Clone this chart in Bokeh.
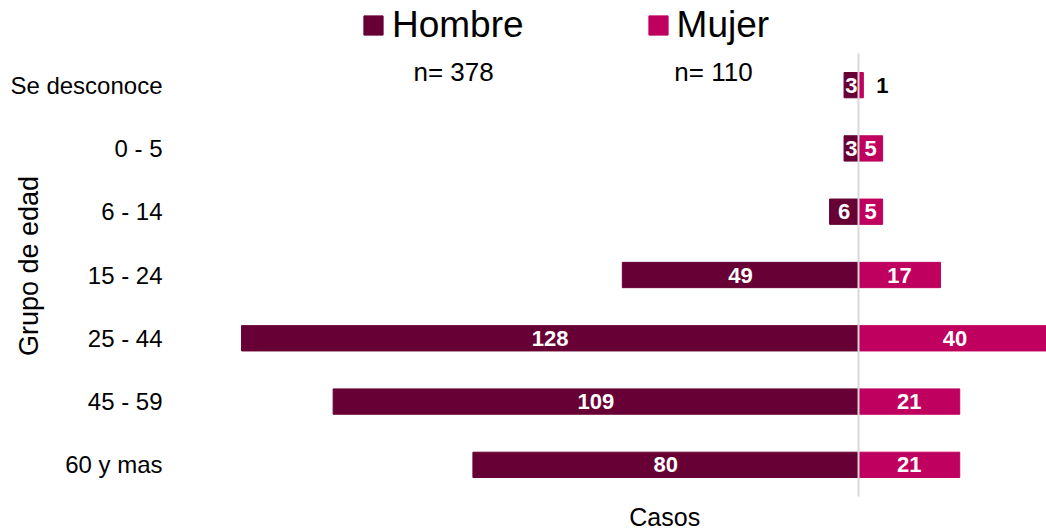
from bokeh.plotting import figure
from bokeh.models import ColumnDataSource, Range1d, Label, Legend, LegendItem, FixedTicker
from bokeh.core.properties import value
from bokeh.embed import file_html
from bokeh.resources import INLINE

# ---- data ----
grupos = ["Se desconoce", "0 - 5", "6 - 14", "15 - 24", "25 - 44", "45 - 59", "60 y mas"]
hombre = [3, 3, 6, 49, 128, 109, 80]
mujer = [1, 5, 5, 17, 40, 21, 21]
series = ["Hombre", "Mujer"]
n_totales = [378, 110]
colores = ["#670034", "#C0005F"]
titulo_y = "Grupo de edad"
titulo_x = "Casos"

FONT = "Liberation Sans"
N = len(grupos)
ypos = [N - 1 - i for i in range(N)]  # first category on top

p = figure(width=1046, height=531,
           y_range=Range1d(-1.053, N - 0.5 + 0.8375),
           x_range=Range1d(-142.74, 39.0),
           output_backend="svg", toolbar_location=None,
           min_border_left=170, min_border_right=0,
           min_border_top=0, min_border_bottom=0)

src_h = ColumnDataSource(dict(y=ypos, left=[-v for v in hombre], right=[0] * N))
src_m = ColumnDataSource(dict(y=ypos, left=[0] * N, right=mujer))

rh = p.hbar(y="y", left="left", right="right", height=0.4, source=src_h,
            fill_color=colores[0], line_color=colores[0])
rm = p.hbar(y="y", left="left", right="right", height=0.4, source=src_m,
            fill_color=colores[1], line_color=colores[1])

# zero line spanning the category rows
p.segment(x0=[0], x1=[0], y0=[-0.5], y1=[N - 0.5], line_color="#d9d9d9", line_width=2)

# bar labels
lx, ly, lt, lc, la, lo = [], [], [], [], [], []
for yv, h, m in zip(ypos, hombre, mujer):
    lx.append(-h / 2); ly.append(yv); lt.append(str(h)); lc.append("white"); la.append("center"); lo.append(0)
    if m >= 3:
        lx.append(m / 2); ly.append(yv); lt.append(str(m)); lc.append("white"); la.append("center"); lo.append(0)
    else:
        lx.append(m); ly.append(yv); lt.append(str(m)); lc.append("black"); la.append("left"); lo.append(13)
src_l = ColumnDataSource(dict(x=lx, y=ly, text=lt, color=lc, align=la, off=lo))
p.text(x="x", y="y", text="text", source=src_l, text_color="color", text_align="align",
       x_offset="off", text_baseline="middle", text_font=value(FONT),
       text_font_style="bold", text_font_size="22px")

# legend
legend = Legend(items=[LegendItem(label=series[0], renderers=[rh]),
                       LegendItem(label=series[1], renderers=[rm])],
                orientation="horizontal", location=(191, 485),
                label_text_font=FONT, label_text_font_size="37px", label_text_color="#000000",
                glyph_width=24, glyph_height=24, label_standoff=7, spacing=122,
                padding=0, margin=0, border_line_color=None, background_fill_alpha=0)
p.add_layout(legend, "center")

# n labels
for xv, n in zip([-84.0, -30.1], n_totales):
    p.add_layout(Label(x=xv, y=N - 1, y_offset=13, text=f"n= {n}", text_align="center",
                       text_baseline="middle", text_font=FONT, text_font_size="26px",
                       text_color="#000000"))

# x title
p.add_layout(Label(x=-40.2, y=-0.5, y_offset=-20, text=titulo_x, text_align="center",
                   text_baseline="middle", text_font=FONT, text_font_size="25px",
                   text_color="#000000"))

# axes
p.xaxis.visible = False
p.xgrid.visible = False
p.ygrid.visible = False
p.outline_line_color = None

ax = p.yaxis[0]
ax.ticker = FixedTicker(ticks=ypos)
ax.major_label_overrides = {yv: g for yv, g in zip(ypos, grupos)}
ax.axis_line_color = None
ax.major_tick_line_color = None
ax.minor_tick_line_color = None
ax.major_tick_out = 0
ax.major_tick_in = 0
ax.major_label_standoff = 8
ax.major_label_text_font = FONT
ax.major_label_text_font_size = "24px"
ax.major_label_text_color = "#000000"
ax.axis_label = titulo_y
ax.axis_label_text_font = FONT
ax.axis_label_text_font_size = "27px"
ax.axis_label_text_font_style = "normal"
ax.axis_label_text_color = "#000000"
ax.axis_label_standoff = -37

open("out.html", "w").write(file_html(p, INLINE))
